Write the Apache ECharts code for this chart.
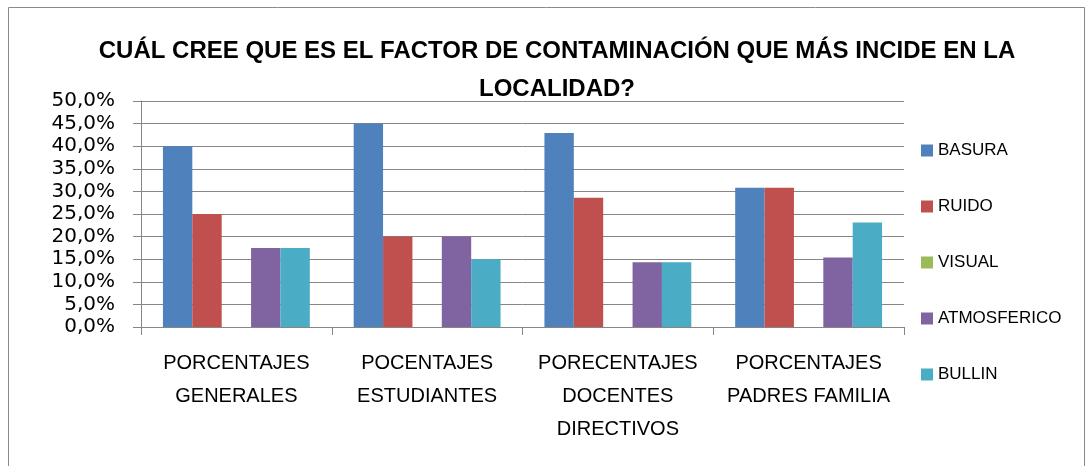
<!DOCTYPE html>
<html>
<head>
<meta charset="utf-8">
<script src="https://cdn.jsdelivr.net/npm/echarts@6/dist/echarts.min.js"></script>
<style>
  html, body { margin: 0; padding: 0; background: #fff; }
  #chart { width: 1089px; height: 466px; }
</style>
</head>
<body>
<div id="chart"></div>
<script>
// categorias del eje x
var aCategorias = ['PORCENTAJES\nGENERALES', 'POCENTAJES\nESTUDIANTES', 'PORECENTAJES\nDOCENTES\nDIRECTIVOS', 'PORCENTAJES\nPADRES FAMILIA'];
// valores en porcentaje
var aBasura = [40.0, 45.0, 42.9, 30.8];
var aRuido = [25.0, 20.0, 28.6, 30.8];
var aVisual = [0, 0, 0, 0];
var aAtmosferico = [17.5, 20.0, 14.3, 15.4];
var aBullin = [17.5, 15.0, 14.3, 23.1];

var aSeries = [
    {name: 'BASURA', data: aBasura, color: '#4F81BD'},
    {name: 'RUIDO', data: aRuido, color: '#C0504D'},
    {name: 'VISUAL', data: aVisual, color: '#9BBB59'},
    {name: 'ATMOSFERICO', data: aAtmosferico, color: '#8064A2'},
    {name: 'BULLIN', data: aBullin, color: '#4BACC6'}
];

var sFont = '"Liberation Sans", sans-serif';
var sGris = '#868686';

var jOption = {
    animation: false,
    title: {
        text: 'CUÁL CREE QUE ES EL FACTOR DE CONTAMINACIÓN QUE MÁS INCIDE EN LA\nLOCALIDAD?',
        left: 552,
        textAlign: 'center',
        top: 27,
        textStyle: {
            fontFamily: sFont,
            fontSize: 24,
            fontWeight: 'bold',
            color: '#000',
            lineHeight: 38
        }
    },
    graphic: [{
        type: 'rect',
        shape: {x: 8.5, y: 7.5, width: 1076, height: 470},
        style: {fill: 'none', stroke: '#8a8a8a', lineWidth: 1},
        silent: true
    }],
    legend: {
        orient: 'vertical',
        left: 916,
        top: 137,
        itemWidth: 12,
        itemHeight: 12,
        itemGap: 39,
        icon: 'rect',
        textStyle: {fontFamily: sFont, fontSize: 17, color: '#000', padding: [0, 0, 0, 0]},
        data: aSeries.map(function (s) { return s.name; })
    },
    grid: {left: 141, right: 185, top: 101, bottom: 139, containLabel: false},
    xAxis: {
        type: 'category',
        data: aCategorias,
        axisLine: {lineStyle: {color: sGris}},
        axisTick: {show: true, length: 8, lineStyle: {color: sGris}},
        axisLabel: {
            interval: 0,
            margin: 20,
            fontFamily: sFont,
            fontSize: 20,
            lineHeight: 33,
            color: '#000'
        }
    },
    yAxis: {
        type: 'value',
        min: 0,
        max: 50,
        interval: 5,
        axisLine: {show: true, lineStyle: {color: sGris}},
        axisTick: {show: true, length: 8, lineStyle: {color: sGris}},
        splitLine: {lineStyle: {color: sGris, width: 1}},
        axisLabel: {
            margin: 26,
            fontFamily: '"DejaVu Sans", sans-serif',
            fontSize: 20,
            color: '#000',
            formatter: function (v) { return v.toFixed(1).replace('.', ',') + '%'; }
        }
    },
    series: aSeries.map(function (s) {
        return {
            name: s.name,
            type: 'bar',
            data: s.data,
            barGap: '0%',
            barCategoryGap: '23%',
            itemStyle: {color: s.color}
        };
    })
};

var myChart = echarts.init(document.getElementById('chart'));
myChart.setOption(jOption);
</script>
</body>
</html>
